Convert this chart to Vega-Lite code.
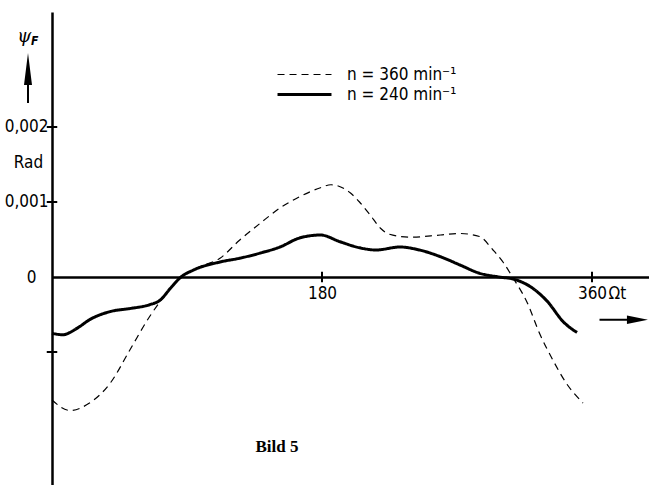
{
  "$schema": "https://vega.github.io/schema/vega-lite/v6.json",
  "width": 597,
  "height": 473,
  "autosize": "none",
  "padding": {"left": 52, "top": 12, "right": 0, "bottom": 0},
  "background": "white",
  "config": {
    "view": {"stroke": null},
    "font": "Liberation Sans Narrow, DejaVu Sans Condensed, sans-serif",
    "axis": {"grid": false, "domainColor": "black", "domainWidth": 2.5, "labelColor": "black", "labelFontSize": 17, "ticks": false}
  },
  "layer": [
    {
      "data": {
        "values": [
          {"deg": 0, "val": -0.00164, "series": "n = 360 min⁻¹"},
          {"deg": 12, "val": -0.00178, "series": "n = 360 min⁻¹"},
          {"deg": 25, "val": -0.00168, "series": "n = 360 min⁻¹"},
          {"deg": 39, "val": -0.00141, "series": "n = 360 min⁻¹"},
          {"deg": 52, "val": -0.00097, "series": "n = 360 min⁻¹"},
          {"deg": 65, "val": -0.00053, "series": "n = 360 min⁻¹"},
          {"deg": 72, "val": -0.00033, "series": "n = 360 min⁻¹"},
          {"deg": 86, "val": 0.0, "series": "n = 360 min⁻¹"},
          {"deg": 99, "val": 0.00014, "series": "n = 360 min⁻¹"},
          {"deg": 112, "val": 0.00025, "series": "n = 360 min⁻¹"},
          {"deg": 125, "val": 0.00049, "series": "n = 360 min⁻¹"},
          {"deg": 139, "val": 0.00072, "series": "n = 360 min⁻¹"},
          {"deg": 152, "val": 0.00092, "series": "n = 360 min⁻¹"},
          {"deg": 165, "val": 0.00107, "series": "n = 360 min⁻¹"},
          {"deg": 179, "val": 0.00119, "series": "n = 360 min⁻¹"},
          {"deg": 186, "val": 0.00123, "series": "n = 360 min⁻¹"},
          {"deg": 199, "val": 0.00112, "series": "n = 360 min⁻¹"},
          {"deg": 205, "val": 0.001, "series": "n = 360 min⁻¹"},
          {"deg": 212, "val": 0.00083, "series": "n = 360 min⁻¹"},
          {"deg": 219, "val": 0.00065, "series": "n = 360 min⁻¹"},
          {"deg": 225, "val": 0.00057, "series": "n = 360 min⁻¹"},
          {"deg": 239, "val": 0.00053, "series": "n = 360 min⁻¹"},
          {"deg": 259, "val": 0.00056, "series": "n = 360 min⁻¹"},
          {"deg": 272, "val": 0.00058, "series": "n = 360 min⁻¹"},
          {"deg": 285, "val": 0.00054, "series": "n = 360 min⁻¹"},
          {"deg": 294, "val": 0.00036, "series": "n = 360 min⁻¹"},
          {"deg": 301, "val": 0.00019, "series": "n = 360 min⁻¹"},
          {"deg": 307, "val": 0.0, "series": "n = 360 min⁻¹"},
          {"deg": 317, "val": -0.00035, "series": "n = 360 min⁻¹"},
          {"deg": 325, "val": -0.00075, "series": "n = 360 min⁻¹"},
          {"deg": 334, "val": -0.00111, "series": "n = 360 min⁻¹"},
          {"deg": 343, "val": -0.00142, "series": "n = 360 min⁻¹"},
          {"deg": 354, "val": -0.00168, "series": "n = 360 min⁻¹"},
          {"deg": 0, "val": -0.00075, "series": "n = 240 min⁻¹"},
          {"deg": 7, "val": -0.00077, "series": "n = 240 min⁻¹"},
          {"deg": 17, "val": -0.00068, "series": "n = 240 min⁻¹"},
          {"deg": 25, "val": -0.00057, "series": "n = 240 min⁻¹"},
          {"deg": 39, "val": -0.00046, "series": "n = 240 min⁻¹"},
          {"deg": 52, "val": -0.00042, "series": "n = 240 min⁻¹"},
          {"deg": 65, "val": -0.00037, "series": "n = 240 min⁻¹"},
          {"deg": 72, "val": -0.00031, "series": "n = 240 min⁻¹"},
          {"deg": 79, "val": -0.00015, "series": "n = 240 min⁻¹"},
          {"deg": 86, "val": 0.0, "series": "n = 240 min⁻¹"},
          {"deg": 94, "val": 0.00009, "series": "n = 240 min⁻¹"},
          {"deg": 112, "val": 0.0002, "series": "n = 240 min⁻¹"},
          {"deg": 125, "val": 0.00025, "series": "n = 240 min⁻¹"},
          {"deg": 139, "val": 0.00032, "series": "n = 240 min⁻¹"},
          {"deg": 152, "val": 0.0004, "series": "n = 240 min⁻¹"},
          {"deg": 165, "val": 0.00052, "series": "n = 240 min⁻¹"},
          {"deg": 179, "val": 0.00056, "series": "n = 240 min⁻¹"},
          {"deg": 192, "val": 0.00047, "series": "n = 240 min⁻¹"},
          {"deg": 205, "val": 0.00039, "series": "n = 240 min⁻¹"},
          {"deg": 216, "val": 0.00036, "series": "n = 240 min⁻¹"},
          {"deg": 232, "val": 0.0004, "series": "n = 240 min⁻¹"},
          {"deg": 245, "val": 0.00036, "series": "n = 240 min⁻¹"},
          {"deg": 259, "val": 0.00027, "series": "n = 240 min⁻¹"},
          {"deg": 272, "val": 0.00016, "series": "n = 240 min⁻¹"},
          {"deg": 285, "val": 0.00005, "series": "n = 240 min⁻¹"},
          {"deg": 298, "val": 0.0, "series": "n = 240 min⁻¹"},
          {"deg": 308, "val": -0.00003, "series": "n = 240 min⁻¹"},
          {"deg": 319, "val": -0.00013, "series": "n = 240 min⁻¹"},
          {"deg": 330, "val": -0.00032, "series": "n = 240 min⁻¹"},
          {"deg": 341, "val": -0.0006, "series": "n = 240 min⁻¹"},
          {"deg": 350, "val": -0.00074, "series": "n = 240 min⁻¹"}
        ]
      },
      "mark": {"type": "line", "interpolate": "monotone", "color": "black"},
      "encoding": {
        "x": {"field": "deg", "type": "quantitative", "scale": {"domain": [0, 398], "nice": false, "zero": false},
          "axis": {"values": [180, 360], "title": null, "offset": -208, "labelPadding": 8, "labelFlush": false}},
        "y": {"field": "val", "type": "quantitative", "scale": {"domain": [-0.0027733, 0.0035333], "nice": false, "zero": false},
          "axis": {"values": [0.002, 0.001, 0, -0.001], "title": "Rad", "titleAngle": 0, "titleX": -24, "titleY": 150,
            "titleAlign": "center", "titleBaseline": "middle", "titleFontWeight": "normal", "titleFontSize": 17,
            "labelPadding": {"condition": {"test": "datum.value == 0", "value": 16}, "value": 4},
            "labelExpr": "datum.value == 0 ? '0' : (datum.value < 0 ? '' : replace(format(datum.value, '.3f'), '.', ','))"}},
        "strokeDash": {"field": "series", "type": "nominal",
          "scale": {"domain": ["n = 360 min⁻¹", "n = 240 min⁻¹"], "range": [[7, 5], [1, 0]]},
          "legend": {"title": null, "orient": "none", "legendX": 244, "legendY": 54, "symbolType": "M-4,0L4,0",
            "symbolSize": 182, "symbolStrokeColor": "black", "symbolFillColor": "transparent", "labelFontSize": 17, "labelColor": "black",
            "rowPadding": 2, "labelOffset": 34}},
        "strokeWidth": {"field": "series", "type": "nominal",
          "scale": {"domain": ["n = 360 min⁻¹", "n = 240 min⁻¹"], "range": [1.2, 3]},
          "legend": {"title": null, "orient": "none", "legendX": 244, "legendY": 54, "symbolType": "M-4,0L4,0",
            "symbolSize": 182, "symbolStrokeColor": "black", "symbolFillColor": "transparent", "labelFontSize": 17, "labelColor": "black",
            "rowPadding": 2, "labelOffset": 34}}
      }
    },
    {
      "data": {"values": [{"t": 0.002}, {"t": 0.001}, {"t": -0.001}]},
      "mark": {"type": "rule", "color": "black", "strokeWidth": 2},
      "encoding": {"y": {"field": "t", "type": "quantitative"}, "x": {"datum": -3.5}, "x2": {"datum": 3.5}}
    },
    {
      "data": {"values": [{"t": 180}, {"t": 360}]},
      "mark": {"type": "rule", "color": "black", "strokeWidth": 2},
      "encoding": {"x": {"field": "t", "type": "quantitative"}, "y": {"datum": -0.00007}, "y2": {"datum": 0.00007}}
    },
    {
      "data": {"values": [{}]},
      "mark": {"type": "text", "align": "left", "baseline": "middle", "fontSize": 17, "color": "black"},
      "encoding": {"x": {"datum": 371}, "y": {"datum": -0.00022}, "text": {"value": "Ωt"}}
    },
    {
      "data": {"values": [{}]},
      "mark": {"type": "text", "align": "center", "baseline": "middle", "fontSize": 18, "fontStyle": "italic", "color": "black", "font": "DejaVu Serif"},
      "encoding": {"x": {"datum": -18.5}, "y": {"datum": 0.0032}, "text": {"value": "ψ"}}
    },
    {
      "data": {"values": [{}]},
      "mark": {"type": "text", "align": "left", "baseline": "middle", "fontSize": 12, "fontStyle": "italic", "fontWeight": "bold", "color": "black"},
      "encoding": {"x": {"datum": -14}, "y": {"datum": 0.00314}, "text": {"value": "F"}}
    },
    {
      "data": {"values": [{}]},
      "mark": {"type": "rule", "color": "black", "strokeWidth": 2},
      "encoding": {"x": {"datum": -16}, "y": {"datum": 0.00232}, "y2": {"datum": 0.0028}}
    },
    {
      "data": {"values": [{}]},
      "mark": {"type": "point", "shape": "M0,-1L0.25,1L-0.25,1Z", "filled": true, "color": "black", "size": 1024, "opacity": 1},
      "encoding": {"x": {"datum": -16}, "y": {"datum": 0.002773}}
    },
    {
      "data": {"values": [{}]},
      "mark": {"type": "rule", "color": "black", "strokeWidth": 2},
      "encoding": {"x": {"datum": 365}, "x2": {"datum": 384}, "y": {"datum": -0.00057}}
    },
    {
      "data": {"values": [{}]},
      "mark": {"type": "point", "shape": "M1,0L-1,0.4L-1,-0.4Z", "filled": true, "color": "black", "size": 441, "opacity": 1},
      "encoding": {"x": {"datum": 390.3}, "y": {"datum": -0.00057}}
    },
    {
      "data": {"values": [{}]},
      "mark": {"type": "text", "align": "center", "baseline": "middle", "fontSize": 17, "fontWeight": "bold", "color": "black", "font": "Liberation Serif"},
      "encoding": {"x": {"datum": 150}, "y": {"datum": -0.00227}, "text": {"value": "Bild 5"}}
    }
  ]
}
